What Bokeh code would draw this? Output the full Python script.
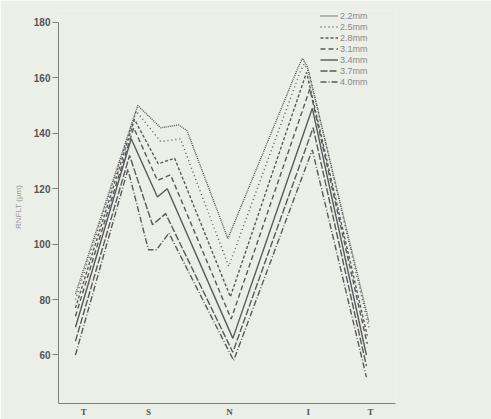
from bokeh.plotting import figure
from bokeh.models import Range1d, FixedTicker, Legend, LegendItem
from bokeh.embed import file_html
from bokeh.resources import INLINE

# Scan diameters (series names)
diameters = ["2.2mm", "2.5mm", "2.8mm", "3.1mm", "3.4mm", "3.7mm", "4.0mm"]

# x = position along the TSNIT scan circle (degrees), y = RNFLT (um)
x_22 = [0, 76, 104, 126, 136, 186, 272, 277, 283, 358]
y_22 = [82, 150, 142, 143, 141, 102, 164, 167, 164, 72]

x_25 = [0, 74, 104, 128, 187, 274, 279, 285, 358]
y_25 = [80, 148, 137, 138, 92, 162, 165, 162, 70]

x_28 = [0, 72, 101, 121, 189, 282, 356]
y_28 = [77, 145, 129, 131, 81, 162, 67]

x_31 = [0, 71, 100, 116, 190, 286, 356]
y_31 = [74, 142, 123, 125, 73, 156, 64]

x_34 = [0, 68, 100, 112, 192, 289, 355]
y_34 = [70, 138, 117, 120, 66, 149, 60]

x_37 = [0, 66, 94, 110, 192, 290, 355]
y_37 = [65, 132, 107, 111, 61, 142, 56]

x_40 = [0, 64, 89, 99, 114, 193, 289, 355]
y_40 = [60, 127, 98, 98, 104, 58, 134, 52]

tick_pos = [10, 89, 188, 284, 360]
tick_labels = ["T", "S", "N", "I", "T"]
y_ticks = [60, 80, 100, 120, 140, 160, 180]

series_x = [x_22, x_25, x_28, x_31, x_34, x_37, x_40]
series_y = [y_22, y_25, y_28, y_31, y_34, y_37, y_40]
dashes = ["1 1", "1 3", "3 2", "5 3", "solid", "7 2", "6 2 1 2"]

BG = "#eceee8"
INK = "#5a5a5a"

p = figure(width=491, height=419, output_backend="svg", toolbar_location=None,
           x_range=Range1d(-20.7, 390.5), y_range=Range1d(42.5, 184.3),
           min_border_left=58, min_border_right=96, min_border_top=10,
           min_border_bottom=11)
p.background_fill_color = BG
p.border_fill_color = BG
p.outline_line_color = None
p.grid.visible = False

renderers = []
for xs, ys, d in zip(series_x, series_y, dashes):
    r = p.line(xs, ys, line_color=INK, line_width=1.4, line_dash=d)
    renderers.append(r)

# axes
p.yaxis.ticker = FixedTicker(ticks=y_ticks)
p.yaxis.bounds = (42.5, 180)
p.yaxis.minor_tick_line_color = None
p.yaxis.major_tick_in = 0
p.yaxis.major_tick_out = 6
p.yaxis.axis_line_color = "#808080"
p.yaxis.major_tick_line_color = "#808080"
p.yaxis.major_label_text_font = "Liberation Sans"
p.yaxis.major_label_text_font_style = "bold"
p.yaxis.major_label_text_font_size = "10px"
p.yaxis.major_label_text_color = "#555555"
p.yaxis.major_label_standoff = 2
p.yaxis.axis_label = "RNFLT (μm)"
p.yaxis.axis_label_text_font = "Liberation Sans"
p.yaxis.axis_label_text_font_style = "normal"
p.yaxis.axis_label_text_font_size = "8px"
p.yaxis.axis_label_text_color = "#9a9a9a"
p.yaxis.axis_label_standoff = 8

p.xaxis.ticker = FixedTicker(ticks=tick_pos)
p.xaxis.major_label_overrides = {t: l for t, l in zip(tick_pos, tick_labels)}
p.xaxis.minor_tick_line_color = None
p.xaxis.major_tick_line_color = None
p.xaxis.major_tick_out = 0
p.xaxis.major_tick_in = 0
p.xaxis.axis_line_color = "#808080"
p.xaxis.major_label_text_font = "Liberation Serif"
p.xaxis.major_label_text_font_style = "bold"
p.xaxis.major_label_text_font_size = "9px"
p.xaxis.major_label_text_color = "#555555"
p.xaxis.major_label_standoff = 3

legend = Legend(items=[LegendItem(label=n, renderers=[r]) for n, r in zip(diameters, renderers)],
                location=(262, 316))
legend.background_fill_alpha = 0
legend.border_line_color = None
legend.padding = 0
legend.margin = 0
legend.spacing = 0
legend.glyph_width = 18
legend.glyph_height = 11
legend.label_height = 11
legend.label_standoff = 2
legend.label_text_font = "Liberation Sans"
legend.label_text_font_size = "9px"
legend.label_text_color = "#8a8a8a"
p.add_layout(legend, "center")

open("out.html", "w").write(file_html(p, INLINE))
